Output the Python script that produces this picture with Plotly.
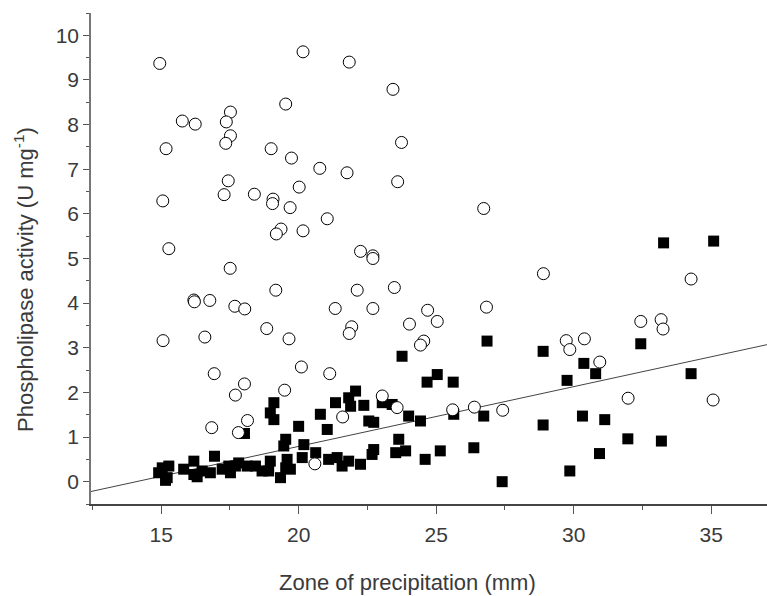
import plotly.graph_objects as go

# Open circles (x = zone of precipitation, y = phospholipase activity)
circle_x = [14.95, 20.16, 21.84, 23.43, 19.53, 17.52, 15.77, 16.24, 17.37, 17.52, 17.35, 15.18, 23.74, 19.0,
            19.74, 20.77, 21.76, 17.44, 23.6, 20.02, 17.29, 18.39, 19.07, 19.05, 15.06, 19.69, 21.04, 19.36,
            19.19, 20.16, 15.28, 22.25, 22.7, 22.7, 17.51, 19.17, 22.13, 23.48, 26.73, 28.9, 34.27,
            16.19, 16.21, 16.77, 17.68, 18.04, 21.33, 22.70, 15.07, 16.59, 18.84, 19.65, 21.93, 21.84,
            16.93, 20.1, 21.13, 18.03, 17.7, 19.49, 23.04, 18.14, 16.84, 17.81, 21.6, 23.58, 20.59,
            26.83, 24.69, 25.04, 24.03, 24.55, 24.43, 29.73, 29.86, 30.39, 30.95, 32.44, 33.18, 33.25,
            31.98, 35.07, 25.6, 26.39, 27.42]
circle_y = [9.37, 9.63, 9.40, 8.79, 8.46, 8.28, 8.08, 8.01, 8.06, 7.75, 7.58, 7.46, 7.60, 7.46,
            7.25, 7.02, 6.92, 6.74, 6.72, 6.60, 6.43, 6.44, 6.33, 6.23, 6.29, 6.14, 5.89, 5.66,
            5.55, 5.62, 5.22, 5.16, 5.06, 5.00, 4.78, 4.29, 4.29, 4.35, 6.12, 4.66, 4.54,
            4.07, 4.03, 4.06, 3.93, 3.87, 3.88, 3.88, 3.16, 3.24, 3.43, 3.20, 3.47, 3.32,
            2.42, 2.57, 2.42, 2.19, 1.94, 2.05, 1.92, 1.37, 1.21, 1.10, 1.45, 1.66, 0.40,
            3.91, 3.84, 3.59, 3.53, 3.15, 3.06, 3.16, 2.96, 3.20, 2.68, 3.59, 3.63, 3.42,
            1.87, 1.83, 1.61, 1.67, 1.60]

# Filled squares
square_x = [14.91, 15.04, 15.22, 15.28, 15.16, 15.82, 16.19, 16.19, 16.31, 16.49, 16.79, 16.94, 17.22, 17.46,
            17.52, 17.82, 18.13, 18.43, 18.67, 18.03, 17.7,
            19.1, 18.97, 19.1, 20.79, 21.04, 20.0, 21.34, 21.82, 22.07, 21.89, 22.37, 22.55, 19.53, 19.46,
            20.19, 20.13, 20.62, 19.58, 19.53, 18.97, 18.91, 19.34, 19.7, 21.09, 21.4, 21.58, 21.82, 22.25,
            22.67, 22.73,
            23.76, 25.04, 24.67, 25.62, 23.04, 23.4, 24.0, 24.43, 25.64, 22.73, 23.64, 23.53, 23.89, 24.6,
            25.15, 26.37, 26.85, 28.89, 29.76, 30.37, 30.8, 32.44, 34.27, 33.27, 35.09, 26.73, 28.89, 30.32,
            31.13, 31.97, 33.19, 30.94, 29.86, 27.4]
square_y = [0.20, 0.31, 0.09, 0.35, 0.03, 0.28, 0.46, 0.16, 0.11, 0.24, 0.20, 0.57, 0.28, 0.35,
            0.20, 0.42, 0.35, 0.35, 0.24, 1.08, 0.35,
            1.77, 1.54, 1.39, 1.51, 1.17, 1.24, 1.77, 1.88, 2.03, 1.69, 1.71, 1.36, 0.95, 0.80,
            0.83, 0.54, 0.65, 0.50, 0.31, 0.46, 0.24, 0.09, 0.28, 0.50, 0.54, 0.35, 0.46, 0.39,
            0.61, 0.72,
            2.81, 2.40, 2.23, 2.23, 1.77, 1.73, 1.47, 1.36, 1.51, 1.33, 0.95, 0.65, 0.69, 0.50,
            0.69, 0.76, 3.15, 2.92, 2.27, 2.65, 2.42, 3.09, 2.42, 5.35, 5.39, 1.47, 1.27, 1.47,
            1.39, 0.96, 0.91, 0.63, 0.24, 0.00]

# Regression line end points
fit_x = [12.45, 37.03]
fit_y = [-0.22, 3.07]

x_range = [12.45, 37.03]
y_range = [-0.5, 10.5]
x_ticks = [15, 20, 25, 30, 35]
y_ticks = [0, 1, 2, 3, 4, 5, 6, 7, 8, 9, 10]

x_title = "Zone of precipitation (mm)"
y_title = "Phospholipase activity (U mg<sup>-1</sup>)"

font_family = "Liberation Sans, Arial, sans-serif"
text_color = "#3a3a3a"

fig = go.Figure()
fig.add_trace(go.Scatter(x=fit_x, y=fit_y, mode="lines",
                         line=dict(color="#444444", width=1), hoverinfo="skip"))
fig.add_trace(go.Scatter(x=square_x, y=square_y, mode="markers",
                         marker=dict(symbol="square", size=11, color="black",
                                     line=dict(width=0))))
fig.add_trace(go.Scatter(x=circle_x, y=circle_y, mode="markers",
                         marker=dict(symbol="circle", size=12, color="white",
                                     line=dict(color="black", width=1))))

# Plot area: 91..767 px horizontally, 13..504.3 px vertically
fig.update_layout(
    width=767, height=596,
    margin=dict(l=91, r=0, t=13, b=91.7),
    paper_bgcolor="white", plot_bgcolor="white",
    showlegend=False,
    font=dict(family=font_family, size=21, color=text_color),
    xaxis=dict(
        range=x_range, tickvals=x_ticks, showgrid=False, zeroline=False,
        showline=True, linecolor="#444444", linewidth=1.5,
        ticks="outside", ticklen=8, tickwidth=1, tickcolor="#555555",
        minor=dict(dtick=2.5, tick0=0, ticks="outside", ticklen=4, tickcolor="#555555", showgrid=False),
        tickfont=dict(size=21, color=text_color),
        ticklabelstandoff=3,
    ),
    yaxis=dict(
        range=y_range, tickvals=y_ticks, showgrid=False, zeroline=False,
        showline=True, linecolor="#777777", linewidth=1.5,
        ticks="outside", ticklen=6, tickwidth=1, tickcolor="#555555",
        minor=dict(dtick=0.5, tick0=0, ticks="outside", ticklen=3, tickcolor="#555555", showgrid=False),
        tickfont=dict(size=21, color=text_color),
    ),
    annotations=[
        dict(text=x_title, xref="paper", yref="paper", x=0.4675, y=-0.160,
             xanchor="center", yanchor="middle", showarrow=False,
             font=dict(size=22, color=text_color)),
        dict(text=y_title, xref="paper", yref="paper", x=-0.099, y=0.4565,
             xanchor="center", yanchor="middle", showarrow=False, textangle=-90,
             font=dict(size=22, color=text_color)),
    ],
)

fig.write_html(
    "out.html",
    config=dict(displayModeBar=False),
    post_script=(
        "document.body.style.margin='0';"
        "document.body.style.overflow='hidden';"
        "document.documentElement.style.overflow='hidden';"
    ),
)
